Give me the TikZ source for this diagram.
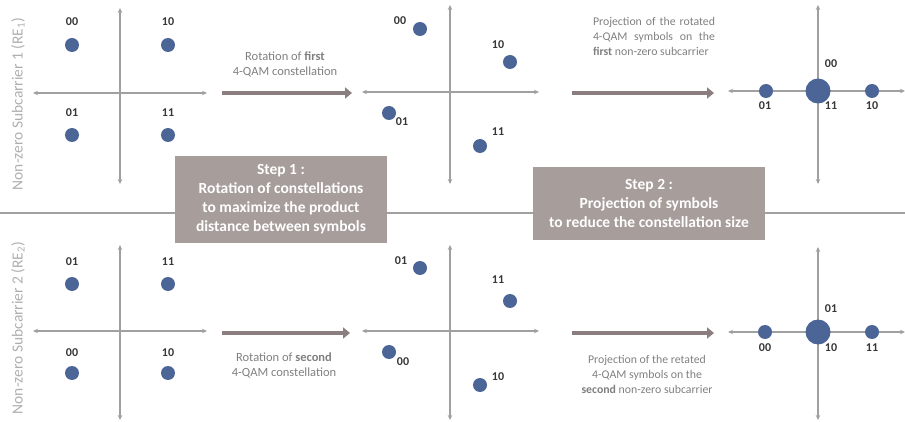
\documentclass[tikz,border=0pt]{standalone}
\usepackage{fontspec}
\setmainfont{Carlito}
\usetikzlibrary{arrows.meta}
\definecolor{axisgray}{RGB}{160,160,160}
\definecolor{dotblue}{RGB}{74,101,150}
\definecolor{bargray}{RGB}{138,126,128}
\definecolor{boxgray}{RGB}{167,158,155}
\definecolor{capgray}{RGB}{128,128,128}
\definecolor{labdark}{RGB}{55,55,55}
\definecolor{sidegray}{RGB}{175,175,175}
\begin{document}
\begin{tikzpicture}[x=1pt,y=-1pt,
  axisline/.style={draw=axisgray,line width=1.4pt,{Stealth[length=5pt,width=4.5pt]}-{Stealth[length=5pt,width=4.5pt]}},
  sym/.style={circle,fill=dotblue,minimum size=14pt,inner sep=0pt},
  bigsym/.style={circle,fill=dotblue,minimum size=25pt,inner sep=0pt},
  lab/.style={text=labdark,font=\fontsize{12}{13}\selectfont\bfseries,inner sep=0pt},
  caption/.style={text=capgray,font=\fontsize{12.5}{15.5}\selectfont,align=center,inner sep=0pt},
  capright/.style={text=capgray,font=\fontsize{11.8}{15}\selectfont,inner sep=0pt},
  bigarrow/.style={draw=bargray,line width=4.5pt,-{Triangle[length=7pt,width=11pt]}},
  stepbox/.style={fill=boxgray,text=white,font=\fontsize{15.5}{19}\selectfont\bfseries,align=center,inner sep=0pt},
  sidelab/.style={text=sidegray,font=\fontsize{15.5}{16}\selectfont,rotate=90,inner sep=0pt},
  divider/.style={draw=axisgray,line width=2.5pt}]
\useasboundingbox (0,0) rectangle (905,422);

% horizontal divider interrupted by the two step boxes
\coordinate (dL) at (0,213);
\coordinate (dR) at (905,213);
\node[stepbox,minimum width=212pt,minimum height=87pt] (step1) at (281,199.5)
  {Step 1 :\\Rotation of constellations\\to maximize the product\\distance between symbols};
\node[stepbox,minimum width=232pt,minimum height=73pt] (step2) at (649,203.5)
  {Step 2 :\\Projection of symbols\\to reduce the constellation size};
\draw[divider] (dL) -- (step1.west |- dL);
\draw[divider] (step1.east |- dL) -- (step2.west |- dL);
\draw[divider] (step2.east |- dL) -- (dR);

% side labels
\node[sidelab] (re1) at (18,104) {Non-zero Subcarrier 1 (RE\textsubscript{1})};
\node[sidelab] (re2) at (18,328) {Non-zero Subcarrier 2 (RE\textsubscript{2})};

% ===== top row =====
% panel A: original constellation
\coordinate (a1t) at (120,8);   \coordinate (a1b) at (120,184);
\coordinate (a1l) at (33,93);   \coordinate (a1r) at (207,93);
\draw[axisline] (a1b) -- (a1t);
\draw[axisline] (a1l) -- (a1r);
\node[sym] (a1s00) at (72,45) {};  \node[lab] (a1l00) at (72,22) {00};
\node[sym] (a1s10) at (168,45) {}; \node[lab] (a1l10) at (168,22) {10};
\node[sym] (a1s01) at (72,135) {}; \node[lab] (a1l01) at (72,113) {01};
\node[sym] (a1s11) at (168,135) {};\node[lab] (a1l11) at (168,113) {11};

% arrow A -> B
\coordinate (ar1s) at (222,93); \coordinate (ar1e) at (352,93);
\draw[bigarrow] (ar1s) -- (ar1e);
\node[caption] (cap1) at (285,64.5) {Rotation of \textbf{first}\\4-QAM constellation};

% panel B: rotated constellation
\coordinate (b1t) at (450,5);   \coordinate (b1b) at (450,184);
\coordinate (b1l) at (362,92);  \coordinate (b1r) at (539,92);
\draw[axisline] (b1b) -- (b1t);
\draw[axisline] (b1l) -- (b1r);
\node[sym] (b1s00) at (420,29) {};  \node[lab] (b1l00) at (400,21) {00};
\node[sym] (b1s10) at (510,62) {};  \node[lab] (b1l10) at (498,45) {10};
\node[sym] (b1s01) at (389,113) {}; \node[lab] (b1l01) at (402,122) {01};
\node[sym] (b1s11) at (480,146) {}; \node[lab] (b1l11) at (498,132) {11};

% arrow B -> C
\coordinate (ar2s) at (572,93); \coordinate (ar2e) at (714,93);
\draw[bigarrow] (ar2s) -- (ar2e);
\node[capright,text width=122pt,align=justify] (cap2) at (654,36)
  {Projection of the rotated\linebreak 4-QAM symbols on the\linebreak \textbf{first} non-zero subcarrier};

% panel C: projected constellation
\coordinate (c1t) at (818,5);   \coordinate (c1b) at (818,184);
\coordinate (c1l) at (728,91);  \coordinate (c1r) at (905,91);
\draw[axisline] (c1b) -- (c1t);
\draw[axisline] (c1l) -- (c1r);
\node[sym] (c1s01) at (766,91) {};
\node[bigsym] (c1smid) at (818,91) {};
\node[sym] (c1s10) at (872,91) {};
\node[lab] (c1l00) at (831,64) {00};
\node[lab] (c1l01) at (765,106) {01};
\node[lab] (c1l11) at (831,106) {11};
\node[lab] (c1l10) at (872,106) {10};

% ===== bottom row =====
% panel D: original constellation
\coordinate (a2t) at (120,245); \coordinate (a2b) at (120,420);
\coordinate (a2l) at (33,331);  \coordinate (a2r) at (207,331);
\draw[axisline] (a2b) -- (a2t);
\draw[axisline] (a2l) -- (a2r);
\node[sym] (a2s01) at (72,284) {};  \node[lab] (a2l01) at (72,262) {01};
\node[sym] (a2s11) at (168,284) {}; \node[lab] (a2l11) at (168,262) {11};
\node[sym] (a2s00) at (72,373) {};  \node[lab] (a2l00) at (72,353) {00};
\node[sym] (a2s10) at (168,373) {}; \node[lab] (a2l10) at (168,353) {10};

% arrow D -> E
\coordinate (ar3s) at (222,333); \coordinate (ar3e) at (350,333);
\draw[bigarrow] (ar3s) -- (ar3e);
\node[caption] (cap3) at (284,365.5) {Rotation of \textbf{second}\\4-QAM constellation};

% panel E: rotated constellation
\coordinate (b2t) at (450,245); \coordinate (b2b) at (450,420);
\coordinate (b2l) at (362,331); \coordinate (b2r) at (539,331);
\draw[axisline] (b2b) -- (b2t);
\draw[axisline] (b2l) -- (b2r);
\node[sym] (b2s01) at (420,268) {}; \node[lab] (b2l01) at (401,261) {01};
\node[sym] (b2s11) at (510,301) {}; \node[lab] (b2l11) at (498,280) {11};
\node[sym] (b2s00) at (389,352) {}; \node[lab] (b2l00) at (403,362) {00};
\node[sym] (b2s10) at (480,385) {}; \node[lab] (b2l10) at (498,377) {10};

% arrow E -> F
\coordinate (ar4s) at (572,333); \coordinate (ar4e) at (714,333);
\draw[bigarrow] (ar4s) -- (ar4e);
\node[capright,align=center] (cap4) at (647,374) {Projection of the retated\\4-QAM symbols on the\\\textbf{second} non-zero subcarrier};

% panel F: projected constellation
\coordinate (c2t) at (818,247); \coordinate (c2b) at (818,420);
\coordinate (c2l) at (728,332); \coordinate (c2r) at (905,332);
\draw[axisline] (c2b) -- (c2t);
\draw[axisline] (c2l) -- (c2r);
\node[sym] (c2s00) at (765,332) {};
\node[bigsym] (c2smid) at (818,332) {};
\node[sym] (c2s11) at (872,332) {};
\node[lab] (c2l01) at (831,309) {01};
\node[lab] (c2l00) at (765,348) {00};
\node[lab] (c2l10) at (831,348) {10};
\node[lab] (c2l11) at (872,348) {11};
\end{tikzpicture}
\end{document}
